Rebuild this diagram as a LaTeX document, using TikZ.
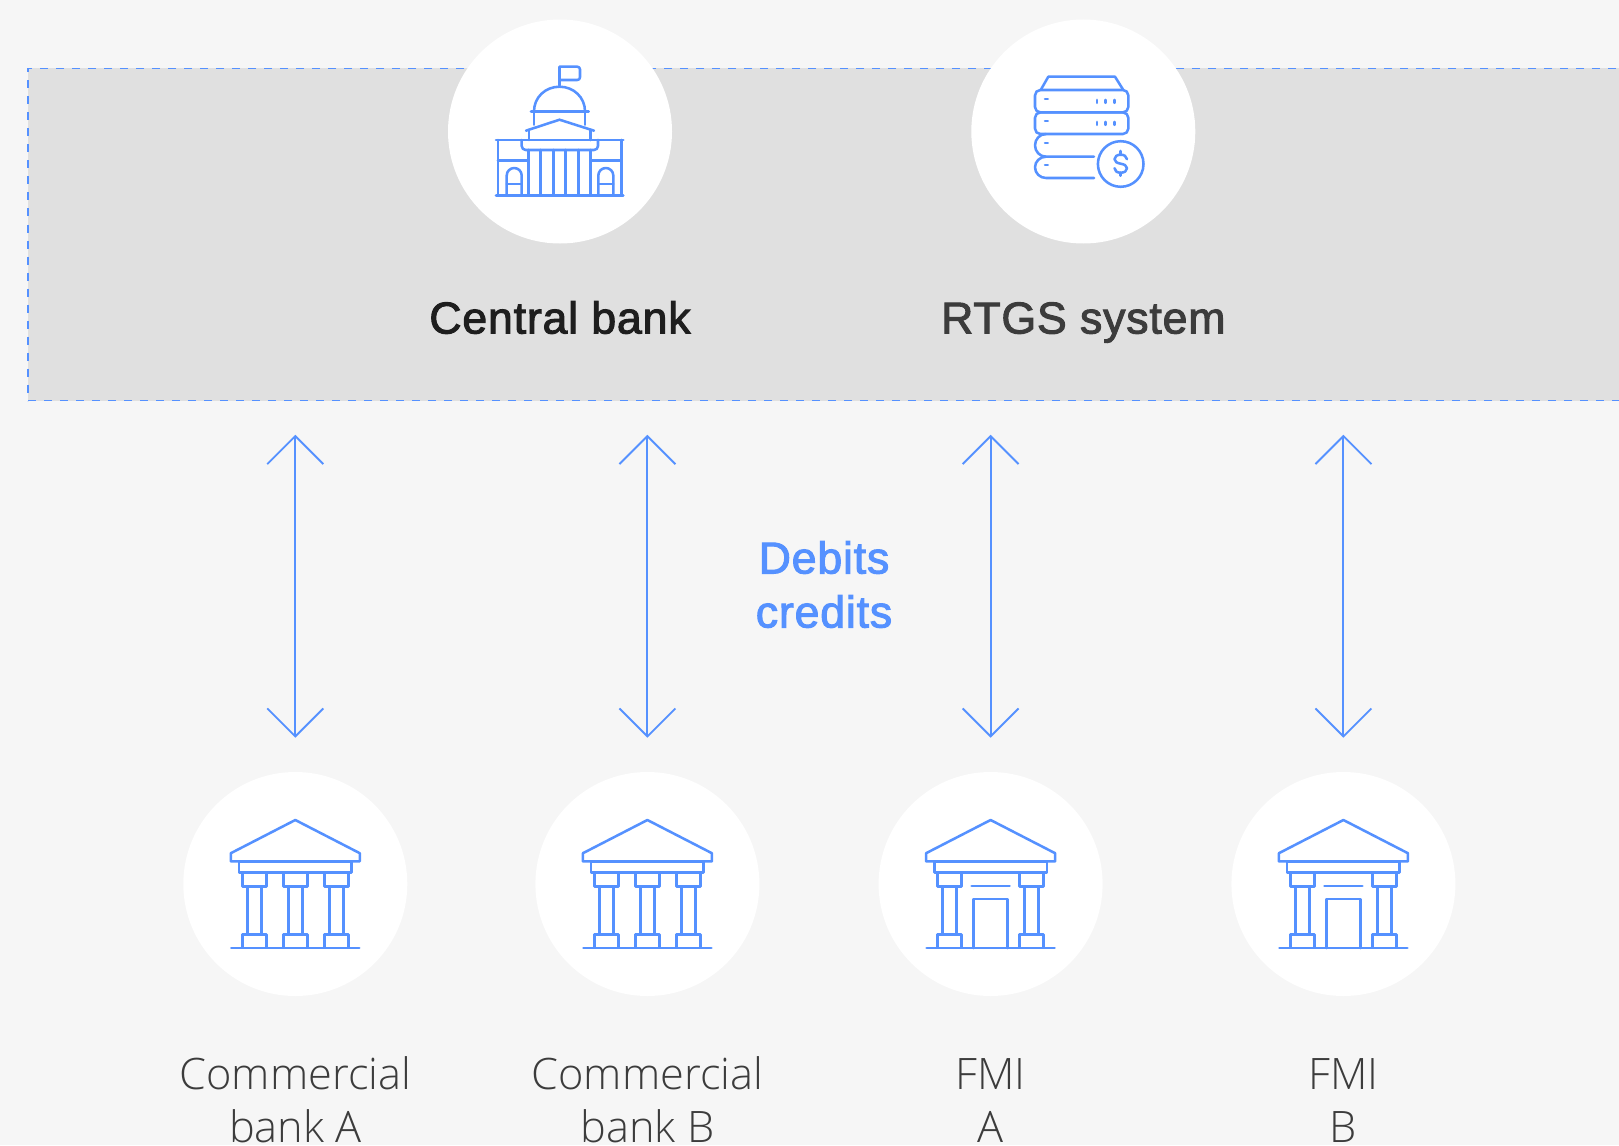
\documentclass[tikz,border=0pt]{standalone}
\usepackage{fontspec}
\usetikzlibrary{arrows.meta}
\setmainfont{Liberation Sans}
\newfontfamily\lightfont{Open Sans}[UprightFont=* Light]
\newfontfamily\medfont{Liberation Sans}[FakeBold=2.2,LetterSpace=1.8]
\definecolor{bgc}{HTML}{F6F6F6}
\definecolor{panelc}{HTML}{E0E0E0}
\definecolor{bluec}{HTML}{5591FF}
\definecolor{darkc}{HTML}{3C3C3C}
\definecolor{blackc}{HTML}{1E1E1E}
\tikzset{
  x=0.75pt,y=-0.75pt,
  disc/.style={circle,fill=white,minimum size=168pt,inner sep=0pt,outer sep=0pt},
  icon/.style={draw=bluec,line width=1.9pt,line join=round,line cap=round},
  biarrow/.style={draw=bluec,line width=1.4pt,{Straight Barb[length=21pt,width=42pt,line width=1.4pt]}-{Straight Barb[length=21pt,width=42pt,line width=1.4pt]},shorten <=25.7pt,shorten >=25.7pt},
  head/.style={font=\fontsize{33.5pt}{38pt}\selectfont\medfont,anchor=base,inner sep=0pt},
  labeltext/.style={font=\fontsize{32.5pt}{41.25pt}\selectfont\lightfont,text=darkc,align=center,anchor=base,inner sep=0pt},
  pics/temple/.style={code={
    \draw[icon] (-64.5,-30.8) -- (0,-64) -- (64.5,-30.8) -- (64.5,-22.6) -- (-64.5,-22.6) -- cycle;
    \draw[icon] (-56.3,-22.6) rectangle (56.3,-11.6);
    \draw[icon] (-64,64) -- (64,64);
    \foreach \c in {#1}{
      \draw[icon] (\c-12,-11.6) rectangle (\c+12,2.7);
      \draw[icon] (\c-7,2.7) -- (\c-7,50.7) (\c+7,2.7) -- (\c+7,50.7);
      \draw[icon] (\c-12,50.7) rectangle (\c+12,64);
    }
  }},
}
\begin{document}
\begin{tikzpicture}
\useasboundingbox (0,0) rectangle (1619,1145);
\clip (0,0) rectangle (1619,1145);
\fill[bgc] (0,0) rectangle (1619,1145);
\node[draw=bluec,fill=panelc,dash pattern=on 6pt off 6pt,line width=1.4pt,rectangle,minimum width=1275pt,minimum height=249pt,inner sep=0pt,outer sep=0pt,anchor=north west] (panel) at (28,68.5) {};
% discs
\node[disc] (cb) at (560,131.5) {};
\node[disc] (rtgs) at (1083.3,131.5) {};
\node[disc] (ba) at (295.3,884) {};
\node[disc] (bb) at (647.4,884) {};
\node[disc] (fa) at (990.6,884) {};
\node[disc] (fb) at (1343.4,884) {};
% arrows
\foreach \n in {ba,bb,fa,fb}{
  \draw[biarrow] (panel.south -| \n.north) -- (\n.north);
}
% capitol icon
\begin{scope}[shift={(0,0.7)}]
\draw[icon] (559.5,85) -- (559.5,66) -- (577,66) [rounded corners=2pt] -- (580,66) -- (580,79.3) -- (559.5,79.3);
\draw[icon] (534,110.7) .. controls (534,96.6) and (545.4,86) .. (559.5,86) .. controls (573.6,86) and (585,96.6) .. (585,110.7);
\draw[icon] (531,110.7) -- (588.7,110.7);
\draw[icon] (534,110.7) -- (534,124) (585,110.7) -- (585,124);
\draw[icon] (526,130) -- (559.5,119) -- (594,130);
\draw[icon] (529,129) -- (529,139.3) (590.7,129) -- (590.7,139.3);
\draw[icon] (496,139.3) -- (623.3,139.3);
\draw[icon] (496,195) -- (623.3,195);
\draw[icon] (498,139.3) -- (498,195) (621.7,139.3) -- (621.7,195);
\draw[icon,rounded corners=3pt] (521.7,139.3) -- (521.7,149.3) -- (598,149.3) -- (598,139.3);
\foreach \c in {528.3,540.7,553.3,565.7,578.3,590.7}{ \draw[icon] (\c,149.3) -- (\c,195); }
\draw[icon] (498,160) -- (528.3,160) (590.7,160) -- (621.7,160);
\foreach \c in {514.2,605.8}{
  \draw[icon] (\c-7.5,195) -- (\c-7.5,174.8) .. controls (\c-7.5,170.6) and (\c-4.1,167.3) .. (\c,167.3) .. controls (\c+4.1,167.3) and (\c+7.5,170.6) .. (\c+7.5,174.8) -- (\c+7.5,195);
  \draw[icon] (\c-7.5,183.3) -- (\c+7.5,183.3);
}
% server icon
\draw[icon] (1040.7,89.3) -- (1048.3,76) -- (1115,76) -- (1123.3,89.3);
\draw[icon,rounded corners=4pt] (1035,89.3) rectangle (1128.3,111.7);
\draw[icon,rounded corners=4pt] (1035,111.7) rectangle (1128.3,133.3);
\draw[icon] (1046,133.3) .. controls (1039.9,133.3) and (1035,138.3) .. (1035,144.6) .. controls (1035,150.9) and (1039.9,156) .. (1046,156) -- (1094,156);
\draw[icon] (1046,156) .. controls (1039.9,156) and (1035,160.8) .. (1035,166.6) .. controls (1035,172.5) and (1039.9,177.3) .. (1046,177.3) -- (1094,177.3);
\foreach \y in {98.3,120.3,142.3,164.3}{ \draw[icon] (1045,\y) -- (1047.8,\y); }
\foreach \y in {100.7,122.7}{ \foreach \x in {1097,1105.7,1114.3}{ \draw[icon] (\x,\y-1.5) -- (\x,\y+1.5); } }
\draw[icon] (1120.7,163.3) circle [radius=22.8];
\draw[icon] (1127,158.5) .. controls (1126.5,155.5) and (1124,154) .. (1120.7,154) .. controls (1117,154) and (1114.5,155.8) .. (1114.5,158.5) .. controls (1114.5,161.5) and (1117.5,162.3) .. (1120.7,163) .. controls (1124,163.7) and (1127,164.7) .. (1127,167.5) .. controls (1127,170.2) and (1124.5,172) .. (1120.7,172) .. controls (1117,172) and (1114.8,170.5) .. (1114.5,167.5);
\draw[icon] (1120.7,150.3) -- (1120.7,154) (1120.7,172) -- (1120.7,175);
\end{scope}
% temples
\pic at (ba) {temple={-41,0,41}};
\pic at (bb) {temple={-41,0,41}};
\pic at (fa) {temple={-41,41}};
\pic at (fb) {temple={-41,41}};
\foreach \n in {fa,fb}{
  \begin{scope}[shift={(\n)}]
  \draw[icon] (-19,2) -- (19,2);
  \draw[icon] (-17,64) -- (-17,15) -- (17,15) -- (17,64);
  \end{scope}
}
% labels
\node[head,text=blackc] (cbl) at (560,333.5) {Central bank};
\node[head,text=darkc] (rtl) at (1083.3,333.5) {RTGS system};
\node[head,text=bluec,align=center] (dc1) at (824,573.5) {Debits};
\node[head,text=bluec,align=center] (dc2) at (824,627.5) {credits};
\node[labeltext] (la1) at (295.3,1089.5) {Commercial};
\node[labeltext] (la2) at (295.3,1142) {bank A};
\node[labeltext] (lb1) at (647.4,1089.5) {Commercial};
\node[labeltext] (lb2) at (647.4,1142) {bank B};
\node[labeltext] (lc1) at (990.6,1089.5) {FMI};
\node[labeltext] (lc2) at (990.6,1142) {A};
\node[labeltext] (ld1) at (1343.4,1089.5) {FMI};
\node[labeltext] (ld2) at (1343.4,1142) {B};
\end{tikzpicture}
\end{document}
